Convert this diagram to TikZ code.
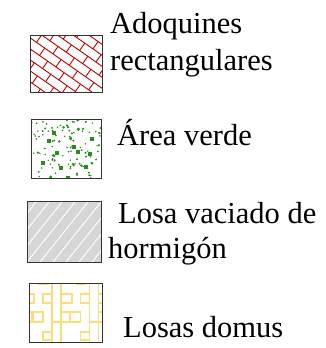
\documentclass[tikz,border=0pt]{standalone}
\usepackage{fontspec}
\setmainfont{Liberation Serif}
\begin{document}
\begin{tikzpicture}[x=1pt,y=-1pt,
  frame/.style={draw=black!80,line width=1.4pt},
  lbl/.style={anchor=base west,inner sep=0pt,font=\fontsize{30.5}{36}\selectfont},
  brick/.style={draw=red!75!black,line width=0.9pt},
  tile/.style={draw=ylw,line width=1.7pt}]
\definecolor{grn}{RGB}{40,140,30}
\definecolor{ylw}{RGB}{255,220,120}
\useasboundingbox (0,0) rectangle (325,348);
% ---- box 1: bricks
\begin{scope}
  \clip (30,35) rectangle (102,92);
  \begin{scope}[rotate around={-35:(66,63)}]
    \foreach \k in {-7,...,7}{
      \draw[brick] (-10,{63+9*\k}) -- (150,{63+9*\k});
      \foreach \j in {-3,...,8}{
        \pgfmathsetmacro\xx{\j*20+mod(abs(\k),2)*10}
        \draw[brick] (\xx,{63+9*\k}) -- (\xx,{63+9*(\k+1)});
      }
    }
  \end{scope}
\end{scope}
\node[frame,minimum width=72pt,minimum height=57pt,inner sep=0pt,anchor=north west] (b1) at (30,35) {};
% ---- box 2: green dots
\begin{scope}
  \clip (31,119) rectangle (101,178);
  \pgfmathsetseed{11}
  \foreach \i in {1,...,120}{
    \pgfmathsetmacro\px{31+70*rnd}
    \pgfmathsetmacro\py{119+59*rnd}
    \pgfmathsetmacro\ps{0.8+1.0*rnd*rnd}
    \fill[grn] (\px,\py) circle (\ps);
  }
  \foreach \px/\py in {52/131,55/151,59/166,76/150,90/137,66/176,41/161,84/165,72/145,47/139,88/152}{
    \fill[grn] (\px,\py) rectangle ++(3.5,3.8);
  }
\end{scope}
\node[frame,minimum width=70pt,minimum height=59pt,inner sep=0pt,anchor=north west] (b2) at (31,119) {};
% ---- box 3: concrete slab
\begin{scope}
  \clip (27,201) rectangle (101,262);
  \fill[black!16] (27,201) rectangle (101,262);
  \foreach \d in {-6,...,6}{
    \draw[white,line width=0.9pt] ({64+13*\d-40},282) -- ({64+13*\d+40},182);
  }
\end{scope}
\node[frame,minimum width=74pt,minimum height=61pt,inner sep=0pt,anchor=north west] (b3) at (27,201) {};
% ---- box 4: domus slabs
\begin{scope}
  \clip (29,283) rectangle (102,342);
  \foreach \x in {5,42.7,80.4}{
    \draw[tile] (\x+9,280) rectangle (\x+18,321.7);
    \draw[tile] (\x+9,321.7) rectangle (\x+18,345);
    \draw[tile] (\x,294) rectangle (\x+9,303);
    \draw[tile] (\x+18,294) rectangle (\x+29,303);
    \draw[tile] (\x-10,311.7) rectangle (\x,321.7);
    \draw[tile] (\x+18,311.7) rectangle (\x+27,321.7);
    \draw[tile] (\x,331.7) rectangle (\x+9,340);
    \draw[tile] (\x-4,280) rectangle (\x+5,284.5);
  }
\end{scope}
\node[frame,minimum width=73pt,minimum height=59pt,inner sep=0pt,anchor=north west] (b4) at (29,283) {};
% ---- labels
\node[lbl] (t1) at (110,33) {Adoquines};
\node[lbl] (t1b) at (110,70) {rectangulares};
\node[lbl] (t2) at (117,145) {Área verde};
\node[lbl] (t3) at (118,223) {Losa vaciado de};
\node[lbl] (t3b) at (108,258) {hormigón};
\node[lbl] (t4) at (123,337) {Losas domus};
\end{tikzpicture}
\end{document}
